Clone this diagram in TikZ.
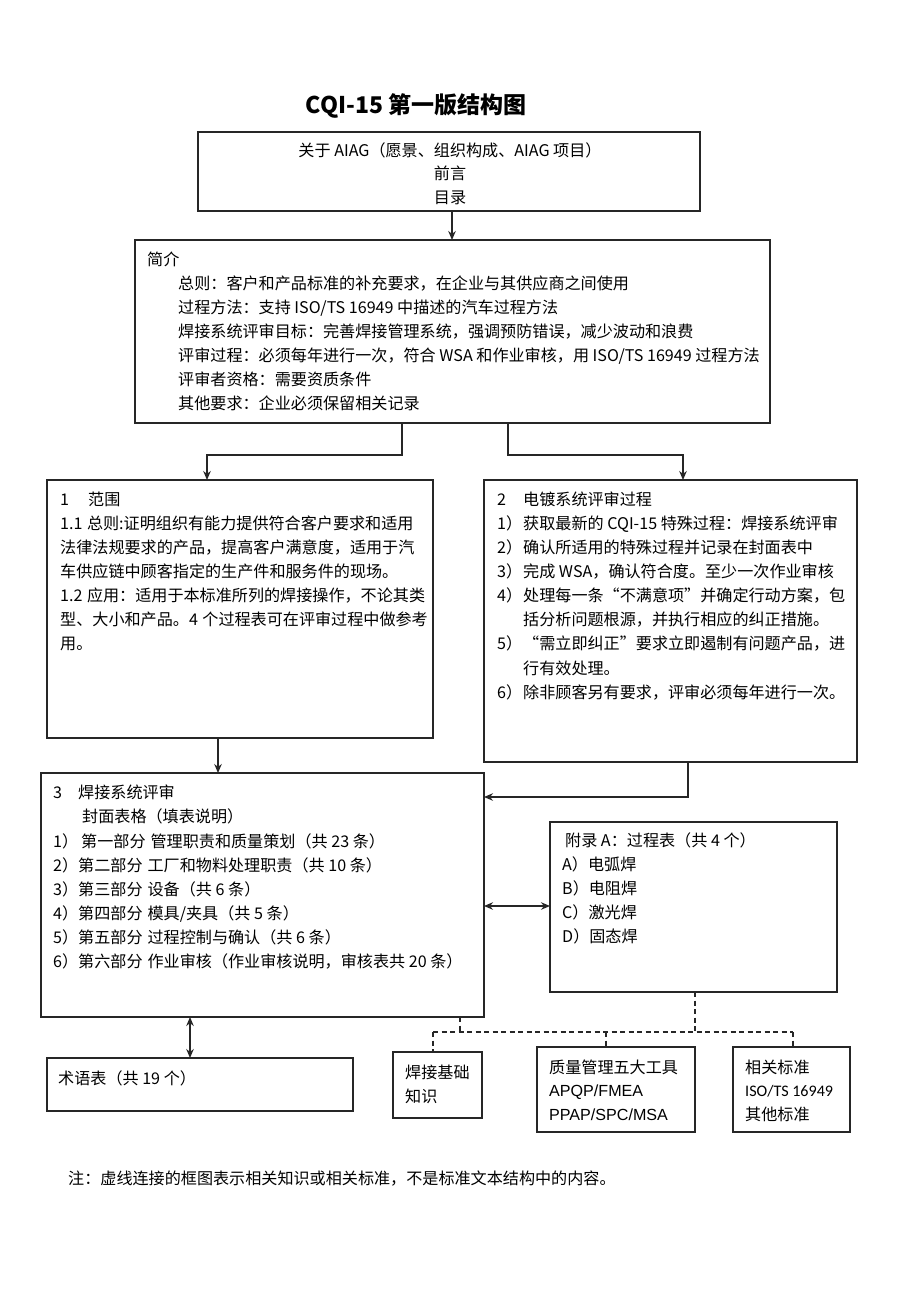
\documentclass[tikz,border=0pt]{standalone}
\usepackage{fontspec}
\setmainfont{Noto Sans CJK SC}
\newfontfamily\arialf{Liberation Sans}
\newfontfamily\calf{Carlito}
\usetikzlibrary{arrows.meta,calc}
\XeTeXlinebreaklocale "zh"
\XeTeXlinebreakskip=0pt plus 2pt
\newcommand\jline[2]{\hbox to #1{\spaceskip=0.28em\relax #2}}
\begin{document}
\begin{tikzpicture}[x=1pt,y=-1pt,
  box/.style={draw=black!85, line width=1.2pt, inner sep=0pt, outer sep=0pt, anchor=north west, fill=white},
  txt/.style={inner sep=0pt, anchor=base west, font=\fontsize{16.1}{20}\selectfont},
  ctxt/.style={txt, anchor=base},
  arr/.style={draw=black!85, line width=1.2pt, -{Stealth[length=9pt,width=7.5pt]}},
  arrtwo/.style={draw=black!85, line width=1.2pt, {Stealth[length=9pt,width=7.5pt]}-{Stealth[length=9pt,width=7.5pt]}},
  dsh/.style={draw=black!85, line width=1.1pt, dash pattern=on 5pt off 3.5pt}]
\useasboundingbox (0,0) rectangle (920,1302);
\fill[white] (0,0) rectangle (920,1302);

% title
\node[inner sep=0pt, anchor=base, font=\bfseries\fontsize{23}{28}\selectfont] (title) at (416,113) {CQI-15 第一版结构图};

% boxes
\node[box, minimum width=502pt, minimum height=79pt] (b1) at (198,132) {};
\node[box, minimum width=635pt, minimum height=183pt] (b2) at (135,240) {};
\node[box, minimum width=386pt, minimum height=258pt] (b3) at (47,480) {};
\node[box, minimum width=373pt, minimum height=282pt] (b4) at (484,480) {};
\node[box, minimum width=443pt, minimum height=244pt] (b5) at (41,773) {};
\node[box, minimum width=287pt, minimum height=170pt] (b6) at (550,822) {};
\node[box, minimum width=306pt, minimum height=53pt] (b7) at (47,1058) {};
\node[box, minimum width=89pt, minimum height=66pt] (b8) at (393,1052) {};
\node[box, minimum width=158pt, minimum height=85pt] (b9) at (537,1047) {};
\node[box, minimum width=117pt, minimum height=85pt] (b10) at (733,1047) {};

% box 1 text
\node[ctxt] (b1t1) at (450,156) {关于 AIAG（愿景、组织构成、AIAG 项目）};
\node[ctxt] (b1t2) at (450,179.5) {前言};
\node[ctxt] (b1t3) at (450,203) {目录};

% box 2 text
\node[txt] (b2t0) at (147,265) {简介};
\foreach \t [count=\i] in {
  {总则：客户和产品标准的补充要求，在企业与其供应商之间使用},
  {过程方法：支持 ISO/TS 16949 中描述的汽车过程方法},
  {焊接系统评审目标：完善焊接管理系统，强调预防错误，减少波动和浪费},
  {评审过程：必须每年进行一次，符合 WSA 和作业审核，用 ISO/TS 16949 过程方法},
  {评审者资格：需要资质条件},
  {其他要求：企业必须保留相关记录}}
  \node[txt] (b2t\i) at (178,{265+24.15*\i}) {\t};

% box 3 text
\node[txt] (b3n) at (60,505) {1};
\node[txt] (b3t0) at (88,505) {范围};
\foreach \t [count=\i] in {
  {1.1 总则:证明组织有能力提供符合客户要求和适用},
  {法律法规要求的产品，提高客户满意度，适用于汽},
  {车供应链中顾客指定的生产件和服务件的现场。\hfil},
  {1.2 应用：适用于本标准所列的焊接操作，不论其类},
  {型、大小和产品。4 个过程表可在评审过程中做参考}}
  \node[txt] (b3t\i) at (60,{505+24.15*\i}) {\jline{360pt}{\t}};
\node[txt] (b3t6) at (60,{505+24.15*6}) {用。};

% box 4 text
\node[txt] (b4n) at (497,505) {2};
\node[txt] (b4t0) at (523,505) {电镀系统评审过程};
\foreach \n/\t [count=\i] in {
  1）/{获取最新的 CQI-15 特殊过程：焊接系统评审},
  2）/{确认所适用的特殊过程并记录在封面表中},
  3）/{完成 WSA，确认符合度。至少一次作业审核},
  4）/{\jline{320pt}{处理每一条“不满意项”并确定行动方案，包}},
  {}/{括分析问题根源，并执行相应的纠正措施。},
  5）/{\jline{320pt}{“需立即纠正”要求立即遏制有问题产品，进}},
  {}/{行有效处理。},
  6）/{除非顾客另有要求，评审必须每年进行一次。}}
  {
  \node[txt] (b4n\i) at (497,{505+24.15*\i}) {\n};
  \node[txt] (b4t\i) at (523,{505+24.15*\i}) {\t};
  }

% box 5 text
\node[txt] (b5n) at (53,798) {3};
\node[txt] (b5t0) at (78,798) {焊接系统评审};
\node[txt] (b5s) at (82,822.5) {封面表格（填表说明）};
\node[txt] (b5t1) at (53,847) {1）\hspace{3pt}第一部分\hspace{5pt}管理职责和质量策划（共 23 条）};
\foreach \t [count=\i from 2] in {
  {2）第二部分\hspace{5pt}工厂和物料处理职责（共 10 条）},
  {3）第三部分\hspace{5pt}设备（共 6 条）},
  {4）第四部分\hspace{5pt}模具/夹具（共 5 条）},
  {5）第五部分\hspace{5pt}过程控制与确认（共 6 条）},
  {6）第六部分\hspace{5pt}作业审核（作业审核说明，审核表共 20 条）}}
  \node[txt] (b5t\i) at (53,{847+24.1*(\i-1)}) {\t};

% box 6 text
\node[txt] (b6t0) at (565,846) {附录 A：过程表（共 4 个）};
\foreach \t [count=\i] in {A）电弧焊, B）电阻焊, C）激光焊, D）固态焊}
  \node[txt] (b6t\i) at (562,{846+24.1*\i}) {\t};

% box 7-10 text
\node[txt] (b7t) at (58,1084) {术语表（共 19 个）};
\node[txt] (b8t1) at (405,1078) {焊接基础};
\node[txt] (b8t2) at (405,1102) {知识};
\node[txt] (b9t1) at (549,1073) {质量管理五大工具};
\node[txt, font=\arialf\fontsize{16.1}{20}\selectfont] (b9t2) at (549,1096.5) {APQP/FMEA};
\node[txt, font=\arialf\fontsize{16.1}{20}\selectfont] (b9t3) at (549,1120) {PPAP/SPC/MSA};
\node[txt] (b10t1) at (745,1073) {相关标准};
\node[txt, font=\calf\fontsize{16.1}{20}\selectfont] (b10t2) at (745,1096.5) {ISO/TS 16949};
\node[txt] (b10t3) at (745,1120) {其他标准};

% note
\node[txt] (note) at (68,1184) {注：虚线连接的框图表示相关知识或相关标准，不是标准文本结构中的内容。};

% connectors
\coordinate (a0) at (452,220);
\draw[arr] (b1.south -| a0) -- (a0 |- b2.north);

\coordinate (j1) at (402,455);
\coordinate (j2) at (207,455);
\coordinate (j3) at (508,455);
\coordinate (j4) at (683,455);
\draw[arr] (b2.south -| j1) -- (j1) -- (j2) -- (j2 |- b3.north);
\draw[arr] (b2.south -| j3) -- (j3) -- (j4) -- (j4 |- b4.north);

\coordinate (j5) at (218,755);
\draw[arr] (b3.south -| j5) -- (j5 |- b5.north);

\coordinate (j6) at (688,797);
\draw[arr] (b4.south -| j6) -- (j6) -- (j6 -| b5.east);

\coordinate (j7) at (517,906);
\draw[arrtwo] (j7 -| b5.east) -- (j7 -| b6.west);

\coordinate (j8) at (190,1035);
\draw[arrtwo] (b5.south -| j8) -- (j8 |- b7.north);

% dashed relations
\coordinate (d0) at (460,1032);
\coordinate (dl) at (433,1032);
\coordinate (dm) at (606,1032);
\coordinate (dr) at (793,1032);
\coordinate (d6) at (695,1032);
\draw[dsh] (b5.south -| d0) -- (d0);
\draw[dsh] (b6.south -| d6) -- (d6);
\draw[dsh] (dl) -- (dr);
\draw[dsh] (dl) -- (dl |- b8.north);
\draw[dsh] (dm) -- (dm |- b9.north);
\draw[dsh] (dr) -- (dr |- b10.north);
\end{tikzpicture}
\end{document}
